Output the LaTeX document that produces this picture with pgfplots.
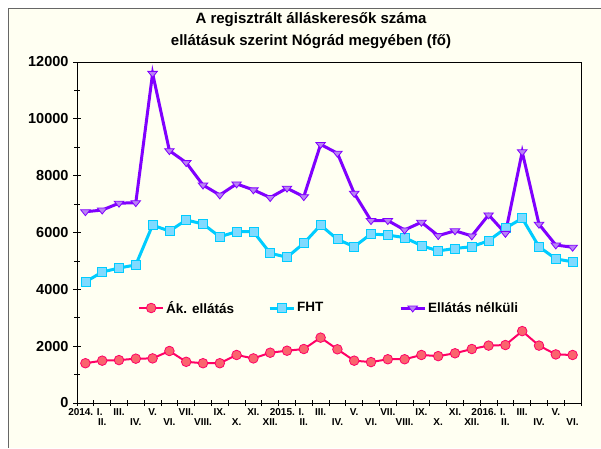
\documentclass[border=0pt]{standalone}
\usepackage{fontspec}
\setmainfont{Liberation Sans}
\usepackage{pgfplots}
\pgfplotsset{compat=1.18}
\definecolor{bg}{RGB}{255,255,242}
\definecolor{vline}{RGB}{128,0,255}
\definecolor{vfill}{RGB}{185,130,245}
\definecolor{cline}{RGB}{0,204,255}
\definecolor{cfill}{RGB}{128,218,255}
\definecolor{rline}{RGB}{255,0,102}
\definecolor{rfill}{RGB}{250,100,110}
\begin{document}
\begin{tikzpicture}[x=1pt,y=1pt]
\path[use as bounding box] (0,0) rectangle (601,448);
\fill[white] (0,0) rectangle (601,448);
\fill[bg] (8,0) rectangle (601,439);
\draw[black!60, line width=1pt] (8,0) -- (8,439) -- (601,439);
\node[font=\bfseries\fontsize{15}{22}\selectfont, align=center] at (311,417)
  {A regisztrált álláskeresők száma\\ellátásuk szerint Nógrád megyében (fő)};
\begin{axis}[
  at={(77pt,45pt)}, anchor=south west,
  scale only axis, width=504pt, height=341pt,
  xmin=0.5, xmax=30.5, ymin=0, ymax=12000,
  axis background/.style={fill=bg},
  axis line style={black, line width=0.8pt},
  tick pos=left, tick align=center,
  ytick={0,2000,...,12000},
  minor ytick={1000,3000,...,11000},
  scaled y ticks=false,
  /pgf/number format/set thousands separator={},
  /pgf/number format/assume math mode=true,
  yticklabel style={font=\bfseries\fontsize{14.5}{16}\selectfont, xshift=-1pt},
  major tick length=8pt, minor tick length=6pt,
  tick style={black, line width=0.8pt},
  xtick={1,3,...,29},
  xticklabels={2014. I., III., V., VII., IX., XI., 2015. I., III., V., VII., IX., XI., 2016. I., III., V.},
  minor xtick={0.5,1.5,...,30.5},
  major x tick style={draw=none},
  extra x ticks={2,4,...,30},
  extra x tick labels={II., IV., VI., VIII., X., XII., II., IV., VI., VIII., X., XII., II., IV., VI.},
  extra x tick style={major x tick style={draw=none}, xticklabel style={yshift=-10pt}},
  xticklabel style={font=\bfseries\fontsize{10}{12}\selectfont, yshift=2pt},
  legend columns=3,
  legend style={at={(0.121,0.2786)}, anchor=west, draw=none, fill=none,
    font=\bfseries\fontsize{13.5}{15}\selectfont, inner sep=0pt,
    /tikz/every even column/.style={column sep=0pt}},
  legend image code/.code={\draw[mark repeat=2,mark phase=2,#1] plot coordinates {(0pt,0pt) (12pt,0pt) (24pt,0pt)};},
]
\addplot[rline, line width=2pt, mark=*, mark size=4.8pt,
  mark options={fill=rfill, draw=rline, line width=0.8pt}] coordinates {
(1,1400)(2,1490)(3,1510)(4,1560)(5,1570)(6,1830)(7,1450)(8,1400)(9,1400)(10,1690)
(11,1570)(12,1770)(13,1840)(14,1900)(15,2300)(16,1890)(17,1490)(18,1440)(19,1540)(20,1540)
(21,1690)(22,1650)(23,1750)(24,1900)(25,2020)(26,2040)(27,2530)(28,2020)(29,1710)(30,1690)};
\addlegendentry{\makebox[100pt][l]{Ák. ellátás}}
\addplot[cline, line width=3pt, mark=square*, mark size=4.5pt,
  mark options={fill=cfill, draw=cline, line width=0.8pt}] coordinates {
(1,4260)(2,4610)(3,4750)(4,4860)(5,6260)(6,6050)(7,6440)(8,6300)(9,5850)(10,6030)
(11,6030)(12,5270)(13,5130)(14,5620)(15,6260)(16,5760)(17,5500)(18,5950)(19,5910)(20,5820)
(21,5540)(22,5350)(23,5440)(24,5500)(25,5710)(26,6150)(27,6500)(28,5500)(29,5070)(30,4970)};
\addlegendentry{\makebox[100pt][l]{FHT}}
\addplot[vline, line width=3pt, mark=triangle*, mark size=5.5pt,
  mark options={fill=vfill, draw=vline, line width=0.8pt, yscale=-0.72}] coordinates {
(1,6730)(2,6790)(3,7030)(4,7050)(5,11600)(6,8880)(7,8460)(8,7670)(9,7320)(10,7710)
(11,7500)(12,7230)(13,7560)(14,7260)(15,9100)(16,8790)(17,7380)(18,6420)(19,6420)(20,6090)
(21,6360)(22,5890)(23,6060)(24,5880)(25,6620)(26,5970)(27,8840)(28,6290)(29,5560)(30,5480)};
\addlegendentry{Ellátás nélküli}
\end{axis}
\end{tikzpicture}
\end{document}
